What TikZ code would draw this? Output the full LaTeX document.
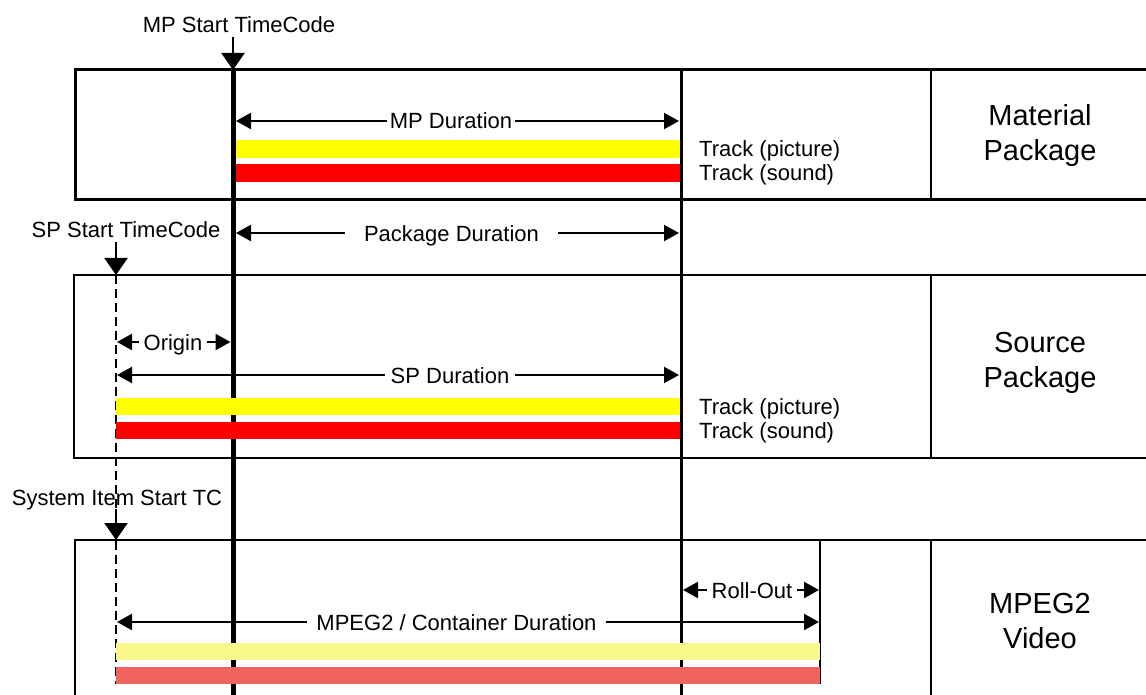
\documentclass[tikz,border=0pt]{standalone}
\usepackage{fontspec}
\setmainfont{Liberation Sans}
\usetikzlibrary{arrows.meta}
\definecolor{trackyellow}{HTML}{FFFF00}
\definecolor{trackred}{HTML}{FF0000}
\definecolor{paleyellow}{HTML}{F8F88A}
\definecolor{palered}{HTML}{EF6360}
\begin{document}
\begin{tikzpicture}[x=1pt,y=-1pt,
  lbl/.style={font=\fontsize{22}{26}\selectfont, inner sep=0pt, text height=16pt, text depth=0pt},
  big/.style={font=\fontsize{29}{35}\selectfont, align=center, inner sep=0pt},
  dimarrow/.style={line width=2.2pt, -{Triangle[length=15pt,width=16pt]}},
  startarrow/.style={line width=2.2pt, shorten <=4pt, -{Triangle[length=17pt,width=23pt]}},
]
\useasboundingbox (0,0) rectangle (1146,695);
% package boxes
\draw[line width=3pt] (1146,70) -- (75,70) -- (75,200) -- (1146,200);
\draw[line width=2.2pt] (1146,275) -- (74,275) -- (74,458) -- (1146,458);
\draw[line width=2.2pt] (1146,540) -- (75,540) -- (75,695);
% right column separators
\draw[line width=2.5pt] (931,70) -- (931,200);
\draw[line width=2.5pt] (931,275) -- (931,458);
\draw[line width=2.5pt] (931,540) -- (931,695);
% time lines
\draw[line width=3pt] (681,70) -- (681,695);
\draw[line width=2.2pt] (820,540) -- (820,684);
\draw[line width=5pt] (233,70) -- (233,695);
\draw[line width=2.6pt, dash pattern=on 9pt off 5pt] (116,275) -- (116,684);
% tracks
\fill[trackyellow] (235.5,140) rectangle (680,158);
\fill[trackred] (235.5,164) rectangle (680,182);
\fill[trackyellow] (116,398) rectangle (680,415);
\fill[trackred] (116,422) rectangle (680,439);
\fill[paleyellow] (116,643) rectangle (820,660);
\fill[palered] (116,667) rectangle (820,684);
% start markers
\node[lbl] (mpst) at (239,25) {MP Start TimeCode};
\coordinate (mpsttip) at (233,70);
\draw[startarrow] (mpst.south -| mpsttip) -- (mpsttip);
\node[lbl] (spst) at (126,230) {SP Start TimeCode};
\coordinate (spsttip) at (116,275);
\draw[startarrow] (spst.south -| spsttip) -- (spsttip);
\node[lbl] (sist) at (117,497) {System Item Start TC};
\coordinate (sisttip) at (116,540);
\draw[startarrow] (sist.south -| sisttip) -- (sisttip);
% dimension arrows
\node[lbl, inner xsep=3pt] (mpd) at (451,121) {MP Duration};
\coordinate (mpdL) at (236,121);
\coordinate (mpdR) at (679,121);
\draw[dimarrow] (mpd.west) -- (mpdL);
\draw[dimarrow] (mpd.east) -- (mpdR);
\node[lbl, inner xsep=19pt] (pkd) at (451.5,233) {Package Duration};
\coordinate (pkdL) at (236,233);
\coordinate (pkdR) at (679,233);
\draw[dimarrow] (pkd.west) -- (pkdL);
\draw[dimarrow] (pkd.east) -- (pkdR);
\node[lbl, inner xsep=4pt] (org) at (173,342) {Origin};
\coordinate (orgL) at (117,342);
\coordinate (orgR) at (230.5,342);
\draw[dimarrow] (org.west) -- (orgL);
\draw[dimarrow] (org.east) -- (orgR);
\node[lbl, inner xsep=5pt] (spd) at (450,375) {SP Duration};
\coordinate (spdL) at (117,375);
\coordinate (spdR) at (679,375);
\draw[dimarrow] (spd.west) -- (spdL);
\draw[dimarrow] (spd.east) -- (spdR);
\node[lbl, inner xsep=9pt] (cd) at (456.5,622) {MPEG2 / Container Duration};
\coordinate (cdL) at (117,622);
\coordinate (cdR) at (819,622);
\draw[dimarrow] (cd.west) -- (cdL);
\draw[dimarrow] (cd.east) -- (cdR);
\node[lbl, inner xsep=4pt] (ro) at (752,590) {Roll-Out};
\coordinate (roL) at (683,590);
\coordinate (roR) at (819,590);
\draw[dimarrow] (ro.west) -- (roL);
\draw[dimarrow] (ro.east) -- (roR);
% track labels
\node[lbl, anchor=west] (mptp) at (699,149) {Track (picture)};
\node[lbl, anchor=west] (mpts) at (699,173) {Track (sound)};
\node[lbl, anchor=west] (sptp) at (699,406.5) {Track (picture)};
\node[lbl, anchor=west] (spts) at (699,430.5) {Track (sound)};
% package names
\node[big] (mpname) at (1040,136) {Material\\Package};
\node[big] (spname) at (1040,362.5) {Source\\Package};
\node[big] (vname) at (1040,621) {MPEG2\\Video};
\end{tikzpicture}
\end{document}
